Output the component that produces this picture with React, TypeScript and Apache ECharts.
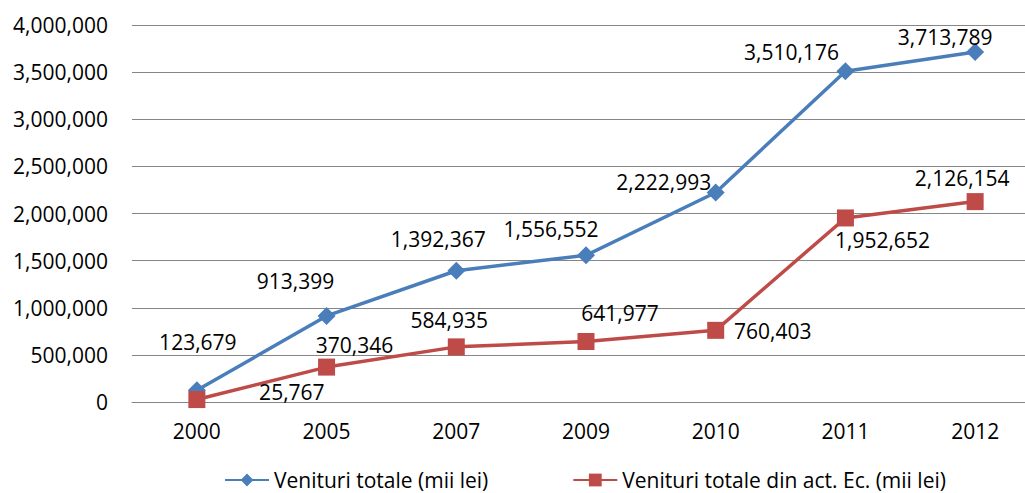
import React, { useEffect, useRef } from "react";
import * as echarts from "echarts";

const categories = ["2000", "2005", "2007", "2009", "2010", "2011", "2012"];
const venituriTotale = [123679, 913399, 1392367, 1556552, 2222993, 3510176, 3713789];
const venituriActEc = [25767, 370346, 584935, 641977, 760403, 1952652, 2126154];
const yTicks = { min: 0, max: 4000000, interval: 500000 };
const seriesNames = ["Venituri totale (mii lei)", "Venituri totale din act. Ec. (mii lei)"];

// label offsets (pixels, relative to the point)
const blueLabelOffsets: [number, number][] = [
  [1, -48], [-31, -35], [-18, -32], [-35, -26], [-52, -10], [-54, -19], [-30, -15],
];
const redLabelOffsets: [number, number][] = [
  [95, -8], [28, -22], [-7, -27], [34, -28], [57, 1], [37, 22], [-13, -24],
];

const FONT = "Open Sans";
const FS = 21;
const fmt = (v: number) => v.toLocaleString("en-US");

export default function App() {
  const ref = useRef<HTMLDivElement>(null);
  useEffect(() => {
    if (!ref.current) return;
    const chart = echarts.init(ref.current, undefined, { renderer: "svg" });
    const mk = (vals: number[], offs: [number, number][]) =>
      vals.map((v, i) => ({
        value: v,
        label: { offset: offs[i] },
      }));
    chart.setOption({
      animation: false,
      textStyle: { fontFamily: FONT },
      grid: { left: 132, top: 25, width: 908, height: 377, containLabel: false },
      legend: {
        top: 469,
        left: 224,
        padding: 0,
        itemWidth: 44,
        itemHeight: 16,
        itemGap: 84,
        textStyle: { fontFamily: FONT, fontSize: FS, color: "#000", lineHeight: 22 },
        data: seriesNames,
      },
      xAxis: {
        type: "category",
        data: categories,
        boundaryGap: true,
        axisLine: { show: true, lineStyle: { color: "#868686", width: 1 } },
        axisTick: { show: false },
        axisLabel: { fontFamily: FONT, fontSize: FS, color: "#000", margin: 18 },
      },
      yAxis: {
        type: "value",
        min: yTicks.min,
        max: yTicks.max,
        interval: yTicks.interval,
        axisLine: { show: false },
        axisTick: { show: false },
        splitLine: { lineStyle: { color: "#868686", width: 1 } },
        axisLabel: {
          fontFamily: FONT,
          fontSize: FS,
          color: "#000",
          margin: 24,
          formatter: (v: number) => fmt(v),
        },
      },
      series: [
        {
          name: seriesNames[0],
          type: "line",
          data: mk(venituriTotale, blueLabelOffsets),
          symbol: "diamond",
          symbolSize: 18,
          lineStyle: { color: "#4A7EBB", width: 3.5 },
          itemStyle: { color: "#4A7EBB" },
          label: {
            show: true,
            position: "inside",
            fontFamily: FONT,
            fontSize: FS,
            color: "#000",
            formatter: (p: any) => fmt(p.value),
          },
          z: 2,
        },
        {
          name: seriesNames[1],
          type: "line",
          data: mk(venituriActEc, redLabelOffsets),
          symbol: "rect",
          symbolSize: 17,
          lineStyle: { color: "#BE4B48", width: 3.5 },
          itemStyle: { color: "#BE4B48" },
          label: {
            show: true,
            position: "inside",
            fontFamily: FONT,
            fontSize: FS,
            color: "#000",
            formatter: (p: any) => fmt(p.value),
          },
          z: 3,
        },
      ],
    });
    return () => chart.dispose();
  }, []);
  return (
    <div style={{ position: "absolute", left: 0, top: 0, width: 1025, height: 493, overflow: "hidden" }}>
      <div ref={ref} style={{ width: 1045, height: 493 }} />
    </div>
  );
}
